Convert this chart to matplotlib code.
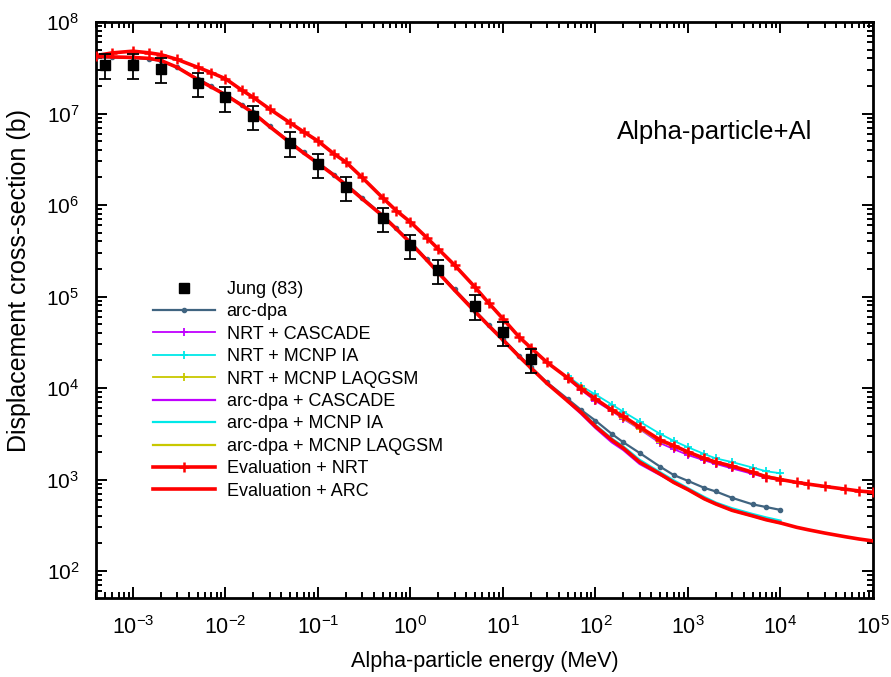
import matplotlib
matplotlib.use('Agg')
import matplotlib.pyplot as plt
from matplotlib.ticker import LogLocator, NullFormatter, FixedLocator

# energies (MeV) and displacement cross-sections (b)
E_JUNG = [5e-4, 1e-3, 2e-3, 5e-3, 1e-2, 2e-2, 5e-2, 0.1, 0.2, 0.5, 1, 2, 5, 10, 20]
JUNG = [3.4e7, 3.4e7, 3.1e7, 2.15e7, 1.5e7, 9.4e6, 4.8e6, 2.8e6, 1.57e6, 7.2e5,
        3.66e5, 1.95e5, 7.9e4, 4.1e4, 2.07e4]

E_EVAL = [4e-4, 6e-4, 1e-3, 1.5e-3, 2e-3, 3e-3, 5e-3, 7e-3, 1e-2, 1.5e-2, 2e-2,
          3e-2, 5e-2, 7e-2, 0.1, 0.15, 0.2, 0.3, 0.5, 0.7, 1, 1.5, 2, 3, 5, 7,
          10, 15, 20, 30, 50, 70, 100, 150, 200, 300, 500, 700, 1e3, 1.5e3,
          2e3, 3e3, 5e3, 7e3, 1e4, 1.5e4, 2e4, 3e4, 5e4, 7e4, 1e5]
EVAL_NRT = [4.3e7, 4.6e7, 4.8e7, 4.6e7, 4.4e7, 3.9e7, 3.2e7, 2.8e7, 2.4e7, 1.8e7,
            1.5e7, 1.12e7, 7.9e6, 6.3e6, 5.0e6, 3.6e6, 2.95e6, 2.0e6, 1.2e6,
            8.7e5, 6.5e5, 4.4e5, 3.3e5, 2.2e5, 1.26e5, 8.5e4, 5.7e4, 3.6e4,
            2.75e4, 1.9e4, 1.29e4, 9.8e3, 7.6e3, 5.75e3, 4.9e3, 3.75e3, 2.7e3,
            2.35e3, 2.0e3, 1.7e3, 1.55e3, 1.4e3, 1.2e3, 1.07e3, 1.0e3, 930,
            890, 840, 785, 750, 725]
EVAL_ARC = [4.2e7, 4.15e7, 4.1e7, 4.0e7, 3.8e7, 3.2e7, 2.35e7, 1.95e7, 1.6e7,
            1.23e7, 1.01e7, 7.2e6, 4.8e6, 3.7e6, 2.85e6, 2.1e6, 1.66e6, 1.17e6,
            7.6e5, 5.5e5, 3.85e5, 2.5e5, 1.82e5, 1.17e5, 6.8e4, 4.8e4, 3.35e4,
            2.2e4, 1.66e4, 1.12e4, 7.2e3, 5.4e3, 3.8e3, 2.7e3, 2.2e3, 1.55e3,
            1.15e3, 930, 775, 615, 540, 460, 400, 363, 335, 300, 282, 260, 237,
            224, 213]

E_ARCDPA = E_EVAL[:30] + [50, 70, 100, 150, 200, 300, 500, 700, 1e3, 1.5e3,
                          2e3, 3e3, 5e3, 7e3, 1e4]
ARC_DPA = [4.1e7, 4.1e7, 4.05e7, 3.95e7, 3.75e7, 3.2e7, 2.4e7, 2.0e7, 1.62e7,
           1.25e7, 1.03e7, 7.3e6, 4.9e6, 3.75e6, 2.9e6, 2.15e6, 1.7e6, 1.2e6,
           7.8e5, 5.6e5, 3.95e5, 2.55e5, 1.86e5, 1.2e5, 7.0e4, 4.9e4, 3.45e4,
           2.25e4, 1.7e4, 1.15e4,
           7.6e3, 5.75e3, 4.4e3, 3.15e3, 2.55e3, 1.95e3, 1.38e3, 1.12e3, 965,
           810, 740, 630, 535, 500, 465]

E_HAD = [50, 70, 100, 150, 200, 300, 500, 700, 1e3, 1.5e3, 2e3, 3e3, 5e3, 7e3, 1e4]
NRT_CASCADE = [1.26e4, 9.5e3, 7.2e3, 5.6e3, 4.6e3, 3.55e3, 2.5e3, 2.15e3, 1.85e3,
               1.62e3, 1.48e3, 1.32e3, 1.15e3, 1.05e3, 980]
NRT_MCNP_IA = [1.35e4, 1.05e4, 8.5e3, 6.6e3, 5.5e3, 4.3e3, 3.15e3, 2.65e3, 2.25e3,
               1.9e3, 1.7e3, 1.55e3, 1.35e3, 1.23e3, 1.17e3]
NRT_LAQGSM = [1.29e4, 1.0e4, 7.6e3, 5.7e3, 4.7e3, 3.6e3, 2.6e3, 2.3e3, 2.0e3,
              1.72e3, 1.55e3, 1.4e3, 1.2e3, 1.1e3, 1.02e3]
ARC_CASCADE = [7.1e3, 5.2e3, 3.65e3, 2.55e3, 2.1e3, 1.48e3, 1.12e3, 930, 780,
               630, 550, 475, 410, 370, 340]
ARC_MCNP_IA = [7.4e3, 5.55e3, 3.95e3, 2.8e3, 2.3e3, 1.64e3, 1.2e3, 980, 805,
               645, 560, 485, 420, 385, 355]
ARC_LAQGSM = [7.2e3, 5.4e3, 3.8e3, 2.7e3, 2.2e3, 1.55e3, 1.14e3, 925, 770,
              612, 538, 458, 398, 362, 333]

X_TICKS = [1e-3, 1e-2, 1e-1, 1e0, 1e1, 1e2, 1e3, 1e4, 1e5]
X_TICKLABELS = [r'$\mathdefault{10^{%d}}$' % k for k in range(-3, 6)]
Y_TICKS = [1e2, 1e3, 1e4, 1e5, 1e6, 1e7, 1e8]
Y_TICKLABELS = [r'$\mathdefault{10^{%d}}$' % k for k in range(2, 9)]

C_ARC = '#406480'
C_VIOLET = '#c000ff'
C_CYAN = '#00e8e8'
C_OLIVE = '#c8c800'
C_RED = '#ff0000'

plt.rcParams['font.family'] = ['Liberation Sans', 'DejaVu Sans']
plt.rcParams['mathtext.default'] = 'regular'

fig = plt.figure(figsize=(8.91, 6.77), dpi=100)
ax = fig.add_axes([0.1077, 0.1167, 0.8721, 0.8508])

ax.errorbar(E_JUNG, JUNG, yerr=[0.3 * v for v in JUNG], fmt='s', color='black',
            ms=6.5, elinewidth=1.3, capsize=4, capthick=1.3, zorder=6)
ax.plot([], [], 's', color='black', ms=6.5, label='Jung (83)')

ax.plot(E_ARCDPA, ARC_DPA, '-', color=C_ARC, lw=1.6, marker='o', ms=3,
        label='arc-dpa', zorder=3)
ax.plot(E_HAD, NRT_CASCADE, '-', color=C_VIOLET, lw=1.3, marker='+', ms=6,
        mew=1.3, label='NRT + CASCADE', zorder=2)
ax.plot(E_HAD, NRT_MCNP_IA, '-', color=C_CYAN, lw=1.3, marker='+', ms=6,
        mew=1.3, label='NRT + MCNP IA', zorder=2)
ax.plot(E_HAD, NRT_LAQGSM, '-', color=C_OLIVE, lw=1.3, marker='+', ms=6,
        mew=1.3, label='NRT + MCNP LAQGSM', zorder=2)
ax.plot(E_HAD, ARC_CASCADE, '-', color=C_VIOLET, lw=1.6,
        label='arc-dpa + CASCADE', zorder=2)
ax.plot(E_HAD, ARC_MCNP_IA, '-', color=C_CYAN, lw=1.6,
        label='arc-dpa + MCNP IA', zorder=2)
ax.plot(E_HAD, ARC_LAQGSM, '-', color=C_OLIVE, lw=1.6,
        label='arc-dpa + MCNP LAQGSM', zorder=2)
ax.plot(E_EVAL, EVAL_NRT, '-', color=C_RED, lw=2.6, marker='+', ms=7,
        mew=1.8, label='Evaluation + NRT', zorder=4)
ax.plot(E_EVAL, EVAL_ARC, '-', color=C_RED, lw=2.6,
        label='Evaluation + ARC', zorder=4)

ax.set_xscale('log')
ax.set_yscale('log')
ax.set_xlim(3.98e-4, 1e5)
ax.set_ylim(50.7, 1e8)

ax.xaxis.set_major_locator(FixedLocator(X_TICKS))
ax.set_xticklabels(X_TICKLABELS, fontsize=15.5)
ax.yaxis.set_major_locator(FixedLocator(Y_TICKS))
ax.set_yticklabels(Y_TICKLABELS, fontsize=15)
for axis in (ax.xaxis, ax.yaxis):
    axis.set_minor_locator(LogLocator(base=10, subs=range(2, 10), numticks=30))
    axis.set_minor_formatter(NullFormatter())

ax.tick_params(which='both', direction='in', top=True, right=True, width=1.4)
ax.tick_params(which='major', length=8)
ax.tick_params(which='minor', length=4)
ax.tick_params(axis='x', which='major', pad=13)
ax.tick_params(axis='y', which='major', pad=12)
for sp in ax.spines.values():
    sp.set_linewidth(2)

ax.set_xlabel('Alpha-particle energy (MeV)', fontsize=15.5)
ax.xaxis.set_label_coords(0.5, -0.092)
ax.set_ylabel('Displacement cross-section (b)', fontsize=18)
ax.yaxis.set_label_coords(-0.083, 0.552)

fig.text(0.6925, 0.805, 'Alpha-particle+Al', fontsize=18.5, va='center', ha='left')

ax.legend(loc='upper left', bbox_to_anchor=(0.1717, 0.585),
          bbox_transform=fig.transFigure, frameon=False, fontsize=13,
          handlelength=3.45, handletextpad=0.63, labelspacing=0.3,
          borderpad=0, borderaxespad=0, numpoints=1)

fig.savefig('out.png', dpi=100)
